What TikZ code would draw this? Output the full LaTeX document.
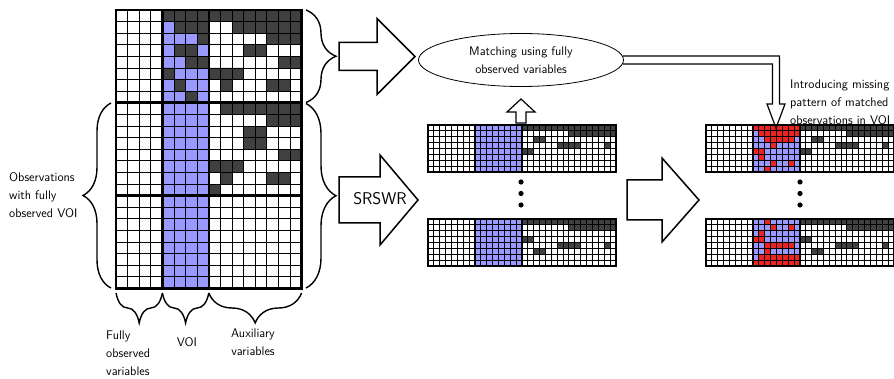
\documentclass[tikz,border=0pt]{standalone}
\usepackage{tikz}
\usetikzlibrary{shapes.geometric}

\definecolor{voiblue}{RGB}{153,153,255}
\definecolor{misscell}{RGB}{64,64,64}
\definecolor{donorred}{RGB}{235,35,35}

\tikzset{
  cellline/.style={line width=0.9pt},
  blockline/.style={line width=2.6pt},
  smallline/.style={line width=0.95pt},
  fatarrow/.style={draw, line width=1.5pt, fill=white, line join=miter},
  txt/.style={inner sep=0pt},
  % curly brace of given length and depth, drawn along local x
  pics/curly/.style 2 args={code={
    \pgfmathsetmacro\crlen{#1}
    \pgfmathsetmacro\crdep{#2}
    \pgfmathsetmacro\crhook{min(#2,#1/4)}
    \pgfmathsetmacro\crmid{#1/2}
    \draw[line width=1.4pt] (0,0)
      .. controls (0.15*\crhook,0.3*\crdep) and (0.5*\crhook,0.5*\crdep) .. (\crhook,0.5*\crdep)
      -- (\crmid-\crhook,0.5*\crdep)
      .. controls (\crmid-0.5*\crhook,0.5*\crdep) and (\crmid-0.15*\crhook,0.7*\crdep) .. (\crmid,\crdep)
      .. controls (\crmid+0.15*\crhook,0.7*\crdep) and (\crmid+0.5*\crhook,0.5*\crdep) .. (\crmid+\crhook,0.5*\crdep)
      -- (\crlen-\crhook,0.5*\crdep)
      .. controls (\crlen-0.5*\crhook,0.5*\crdep) and (\crlen-0.15*\crhook,0.3*\crdep) .. (\crlen,0);
  }},
}

\begin{document}
\begin{tikzpicture}[x=1pt, y=-1pt, font=\sffamily\fontsize{12.5}{18}\selectfont]
\useasboundingbox (0,0) rectangle (894,379);

% full data: 16 variables, 24 observations
\begin{scope}[shift={(116pt,-10pt)}, x=11.6pt, y=-11.6pt]
  \fill[voiblue] (4,0) rectangle (8,24);
  % first block, VOI partly missing
  \fill[misscell] (4,0) rectangle (16,1);
  \fill[misscell] (5,1) rectangle (8,2) (10,1) rectangle (16,2);
  \fill[misscell] (7,2) rectangle (8,3) (13,2) rectangle (16,3);
  \fill[misscell] (5,3) rectangle (7,4) (11,3) rectangle (13,4);
  \fill[misscell] (6,4) rectangle (8,5) (14,4) rectangle (16,5);
  \fill[misscell] (4,5) rectangle (5,6) (8,5) rectangle (11,6);
  \fill[misscell] (5,6) rectangle (6,7) (9,6) rectangle (10,7) (13,6) rectangle (15,7);
  \fill[misscell] (6,7) rectangle (7,8);
  % second block, only auxiliary values missing
  \fill[misscell] (9,8) rectangle (16,9);
  \fill[misscell] (13,9) rectangle (16,10);
  \fill[misscell] (11,10) rectangle (13,12);
  \fill[misscell] (14,12) rectangle (16,13);
  \fill[misscell] (8,13) rectangle (11,14);
  \fill[misscell] (9,14) rectangle (10,15) (13,14) rectangle (15,15);
  \fill[misscell] (8,15) rectangle (9,16);
  \foreach \c in {0,...,16} \draw[cellline] (\c,0) -- (\c,24);
  \foreach \r in {0,...,24} \draw[cellline] (0,\r) -- (16,\r);
  \draw[blockline] (0,0) rectangle (16,24) (4,0) -- (4,24) (8,0) -- (8,24) (0,8) -- (16,8) (0,16) -- (16,16);
\end{scope}

% resampled data sets
\begin{scope}[shift={(428pt,-125pt)}, x=5.87pt, y=-5.87pt]
  \fill[voiblue] (8,0) rectangle (16,8);
  \fill[misscell] (16,0) rectangle (32,1) (24,1) rectangle (32,2) (18,2) rectangle (20,3) (22,3) rectangle (26,4) (30,3) rectangle (31,4) (16,4) rectangle (18,5);
\end{scope}
\begin{scope}[shift={(428pt,-219pt)}, x=5.87pt, y=-5.87pt]
  \fill[voiblue] (8,0) rectangle (16,8);
  \fill[misscell] (16,0) rectangle (32,1) (24,1) rectangle (32,2) (16,3) rectangle (18,4) (22,4) rectangle (26,5) (30,4) rectangle (31,5) (18,5) rectangle (20,6);
\end{scope}
\begin{scope}[shift={(706pt,-125pt)}, x=5.87pt, y=-5.87pt]
  \fill[voiblue] (8,0) rectangle (16,8);
  \fill[donorred] (8,0) rectangle (16,1) (9,1) rectangle (16,2) (10,2) rectangle (15,3) (11,3) rectangle (12,4) (8,4) rectangle (10,5) (9,5) rectangle (10,6) (11,6) rectangle (12,7) (14,6) rectangle (15,7) (10,7) rectangle (11,8);
  \fill[misscell] (16,0) rectangle (32,1) (24,1) rectangle (32,2) (18,2) rectangle (20,3) (22,3) rectangle (26,4) (30,3) rectangle (31,4) (16,4) rectangle (18,5);
\end{scope}
\begin{scope}[shift={(706pt,-219pt)}, x=5.87pt, y=-5.87pt]
  \fill[voiblue] (8,0) rectangle (16,8);
  \fill[donorred] (10,0) rectangle (11,1) (11,1) rectangle (12,2) (14,1) rectangle (15,2) (9,2) rectangle (10,3) (8,3) rectangle (10,4) (10,4) rectangle (15,5) (10,5) rectangle (11,6) (9,6) rectangle (16,7) (8,7) rectangle (16,8);
  \fill[misscell] (16,0) rectangle (32,1) (24,1) rectangle (32,2) (16,3) rectangle (18,4) (22,4) rectangle (26,5) (30,4) rectangle (31,5) (18,5) rectangle (20,6);
\end{scope}
\foreach \mx/\my in {428/125, 428/219, 706/125, 706/219} {
  \begin{scope}[shift={(\mx pt,-\my pt)}, x=5.87pt, y=-5.87pt]
    \foreach \c in {0,...,32} \draw[smallline] (\c,0) -- (\c,8);
    \foreach \r in {0,...,8} \draw[smallline] (0,\r) -- (32,\r);
    \draw[blockline, line width=2pt] (0,0) rectangle (32,8) (8,0) -- (8,8) (16,0) -- (16,8);
  \end{scope}
}

% vertical dots between samples
\foreach \dy in {182,193.5,205} {
  \fill (521,\dy) circle (2.6pt);
  \fill (800,\dy) circle (2.6pt);
}

% braces
\pic[rotate=90] at (306,102.5) {curly={92.5}{30}};
\pic[rotate=90] at (306,288) {curly={184.5}{30}};
\pic[rotate=-90] at (111,103) {curly={185}{28}};
\pic at (116,293) {curly={46.4}{30}};
\pic at (162.4,293) {curly={46.4}{30}};
\pic at (208.8,293) {curly={92.8}{30}};

\node[txt, anchor=west, align=left] (obs) at (9,195) {Observations\\with fully\\observed VOI};
\node[txt, anchor=north west, align=left] (fullyobs) at (106,331) {Fully\\observed\\variables};
\node[txt] (voi) at (187,342) {VOI};
\node[txt, align=center] (aux) at (253,342) {Auxiliary\\variables};

% block arrows
\draw[fatarrow] (339,42.5) -- (377,42.5) -- (377,18.5) -- (415,56.5) -- (377,94.5) -- (377,70.5) -- (339,70.5) -- cycle;
\draw[fatarrow] (339,177) -- (380,177) -- (380,155) -- (418,200) -- (380,245) -- (380,223) -- (339,223) -- cycle;
\node[txt, font=\sffamily\fontsize{17}{20}\selectfont] (srswr) at (380,199) {SRSWR};
\draw[fatarrow] (627,180) -- (662,180) -- (662,158) -- (699,200) -- (662,242) -- (662,220) -- (627,220) -- cycle;

\node[draw, ellipse, line width=0.8pt, minimum width=205pt, minimum height=53pt, inner sep=0pt, align=center] (match) at (521,60) {Matching using fully\\observed variables};
\draw[fatarrow, line width=1.2pt] (516,123) -- (516,112) -- (507,112) -- (521,99) -- (535,112) -- (526,112) -- (526,123) -- cycle;

% hollow connector into the matched data
\coordinate (dropin) at (776,104);
\draw[line width=1.2pt, line join=miter] ([xshift=-1pt,yshift=4pt]match.east) -| ([xshift=3.5pt]dropin) -- ([xshift=9pt]dropin) -- (776,128) -- ([xshift=-9pt]dropin) -- ([xshift=-3.5pt]dropin) |- ([xshift=-1pt,yshift=-4pt]match.east);
\node[txt, anchor=north west, align=left] (intro) at (790,80) {Introducing missing\\pattern of matched\\observations in VOI};

\end{tikzpicture}
\end{document}
